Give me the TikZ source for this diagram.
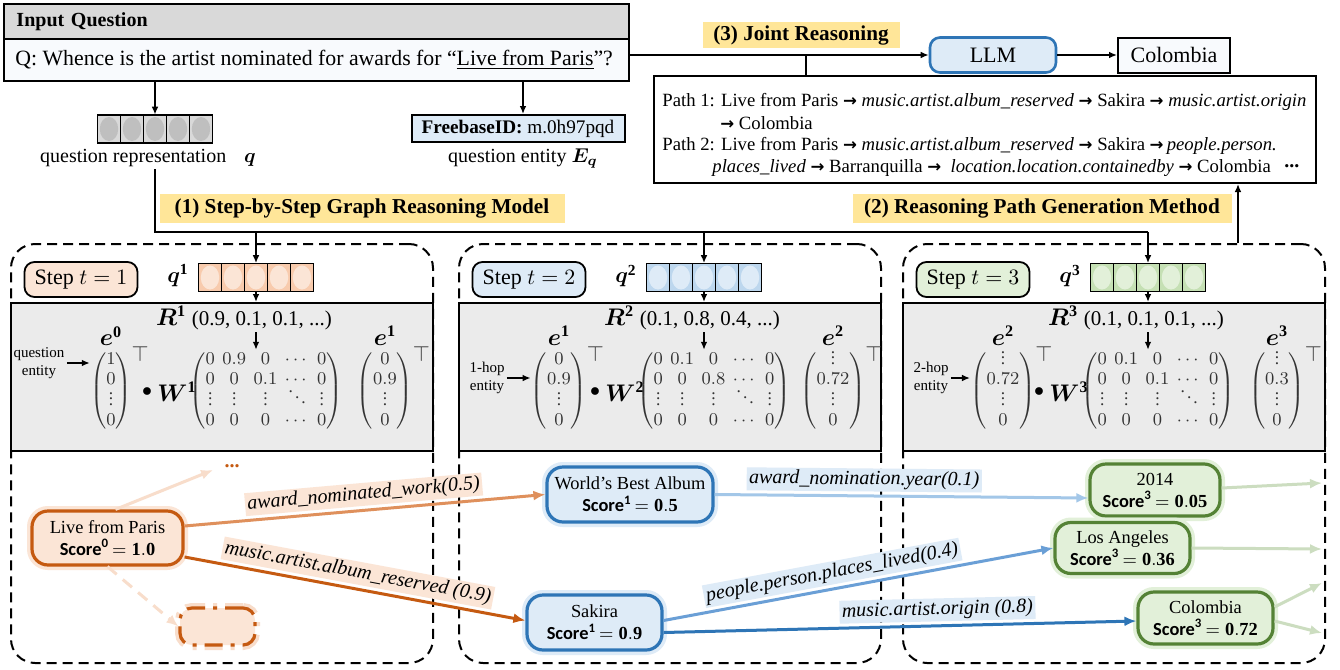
\documentclass[tikz,border=0pt]{standalone}
\usepackage{amsmath}
\usepackage{bm}
\usepackage{fontspec}
\setmainfont{Liberation Serif}
\newfontfamily\carlito{Carlito}
\newfontfamily\djv{DejaVu Sans}
\usetikzlibrary{arrows.meta}

\definecolor{peach}{HTML}{FBE5D6}
\definecolor{peachd}{HTML}{F8CBAD}
\definecolor{orng}{HTML}{C55A11}
\definecolor{orngl}{HTML}{DF905C}
\definecolor{orngf}{HTML}{F8DDCB}
\definecolor{lblue}{HTML}{DEEBF7}
\definecolor{mblue}{HTML}{BDD7EE}
\definecolor{dblue}{HTML}{2E75B6}
\definecolor{blueA}{HTML}{A3C7E8}
\definecolor{blueB}{HTML}{6A9FD6}
\definecolor{lgreen}{HTML}{E2F0D9}
\definecolor{mgreen}{HTML}{C5E0B4}
\definecolor{dgreen}{HTML}{548235}
\definecolor{fgreen}{HTML}{CCDDC0}
\definecolor{ylw}{HTML}{FFE699}
\definecolor{gryh}{HTML}{D9D9D9}
\definecolor{grym}{HTML}{EBEBEB}
\definecolor{gryc}{HTML}{BFBFBF}
\definecolor{qbg}{HTML}{F8FAFD}

\newcommand\fsz[1]{\fontsize{#1}{\dimexpr #1pt*6/5\relax}\selectfont}
\newcommand\score[2]{{\carlito\bfseries Score\textsuperscript{#1}}\,$=\mathbf{#2}$}
\newcommand\pth{{\djv\bfseries\fontsize{8.3}{10}\selectfont →}}
\newcommand\vd{\vbox{\baselineskip2.8pt\lineskiplimit0pt\kern0.5pt\hbox{.}\hbox{.}\hbox{.}}}
\newcommand\dd{\mathinner{\mkern1mu\raise6.2pt\hbox{.}\mkern2mu\raise3.6pt\hbox{.}\mkern2mu\raise1pt\hbox{.}\mkern1mu}}
\newcommand\vcells[4]{%
  \foreach \k in {0,...,4}{%
    \draw[line width=0.9pt, fill=#3] ({#1-57.5+23*\k},{#2-14}) rectangle ({#1-34.5+23*\k},{#2+14});
    \fill[#4] ({#1-46+23*\k},{#2}) ellipse [x radius=4.6pt, y radius=6pt];
  }}

\tikzset{
  x=0.5pt, y=-0.5pt,
  arr/.style={line width=1pt, -{Latex[length=4pt,width=3.4pt]}},
  box/.style={draw, line width=1pt, inner sep=0pt},
  ylab/.style={fill=ylw, font=\fsz{10.6}\bfseries, inner sep=0pt, minimum height=14.5pt},
  panel/.style={draw, line width=1pt, dash pattern=on 5pt off 3pt, rounded corners=12pt, inner sep=0pt},
  graybox/.style={draw, line width=1pt, fill=grym, inner sep=0pt},
  steplab/.style={draw, line width=0.9pt, rounded corners=5pt, minimum width=56.5pt, minimum height=17.5pt, inner sep=0pt, font=\fsz{11}},
  mat/.style={inner sep=0pt, font=\fontsize{8.7}{10.2}\selectfont, text=black!80, execute at begin node={\setlength\arraycolsep{1.9pt}}},
  ent/.style={rounded corners=8pt, line width=1.6pt, align=center, inner sep=2pt, font=\fontsize{9.2}{11}\selectfont},
  glow/.style={preaction={draw=#1, line width=5pt}},
  elab/.style={font=\fsz{10}\itshape, text=black, inner sep=1.2pt, sloped, above=1.5pt},
  link/.style={line width=1.5pt, -{Latex[length=6pt,width=5pt]}},
  pline/.style={inner sep=0pt, anchor=west, font=\fsz{9.35}},
}

\newcommand\steppanel[9]{%
\begin{scope}[xshift=#2]
  \node[panel, anchor=north west, minimum width=211pt, minimum height=209.5pt] (p#1) at (10,243) {};
  \node[graybox, anchor=north west, minimum width=211pt, minimum height=74pt] (g#1) at (10,302) {};
  \node[steplab, fill=#3] (st#1) at (81,279.5) {Step $t=#1$};
  \node[font=\fsz{11}, inner sep=1pt] (ql#1) at (178,276) {$\bm{q}^{\mathbf{#1}}$};
  \node[inner sep=0pt, minimum width=57.5pt, minimum height=14pt] (q#1) at (256,277.5) {};
  \vcells{256}{277.5}{#4}{#3}
  \draw[arr] (q#1.south) -- (q#1.south |- g#1.north);
  \node[font=\fsz{10.5}, inner sep=1pt] (r#1) at (244,318) {{\fsz{11.5}$\bm{R}^{\mathbf{#1}}$}\;(#6)};
  \node[font=\fsz{11.5}, inner sep=1pt] (el#1) at (111,336) {$\bm{e}^{\mathbf{\the\numexpr#1-1\relax}}$};
  \node[font=\fsz{11.5}, inner sep=1pt] (er#1) at (385,336) {$\bm{e}^{\mathbf{#1}}$};
  \node[mat] (lv#1) at (111,391) {$#7$};
  \node[mat, font=\fsz{11}, anchor=south west] (tl#1) at ([xshift=-0.5pt,yshift=-6pt]lv#1.north east) {$\top$};
  \node[font=\fsz{10}, inner sep=0pt] (dt#1) at (147,392) {$\bullet$};
  \node[font=\fsz{11.5}, inner sep=1pt] (w#1) at (177,392) {$\bm{W}^{\mathbf{#1}}$};
  \node[mat] (m#1) at (266,391) {$#8$};
  \node[mat] (rv#1) at (385,391) {$#9$};
  \node[mat, font=\fsz{11}, anchor=south west] (tr#1) at ([xshift=-0.5pt,yshift=-6pt]rv#1.north east) {$\top$};
  \node[font=\fsz{7.5}, align=center, inner sep=1pt] (le#1) at (39,\lely) {#5};
  \draw[arr] (le#1.east) -- (le#1.east -| lv#1.west);
  \draw[arr] (r#1.south -| q#1.south) -- (m#1.north -| q#1.south);
\end{scope}}

\begin{document}
\begin{tikzpicture}
\useasboundingbox (0,0) rectangle (1340,670);
\fill[white] (0,0) rectangle (1340,670);

% ---- input question
\node[box, fill=gryh, anchor=north west, minimum width=312.5pt, minimum height=17.5pt, text width=300pt, inner xsep=6pt, align=left, font=\fsz{10}\bfseries] (ih) at (3,3) {Input Question};
\node[box, fill=qbg, anchor=north west, minimum width=312.5pt, minimum height=21pt] (qb) at (3,38) {};
\node[inner sep=0pt, anchor=west, font=\fsz{10.9}] (qt) at (15,60) {Q: Whence is the artist nominated for awards for ``\underline{Live from Paris}''?};

\node[inner sep=0pt, minimum width=58pt, minimum height=14pt] (qv) at (155,129) {};
\vcells{155}{129}{gryh}{gryc}
\node[font=\fsz{10}, inner sep=1pt] (qrl) at (148,158) {question representation\hspace{9pt}$\bm{q}$};
\node[box, fill=lblue, minimum width=106.5pt, minimum height=13.5pt, font=\fsz{9.6}] (fb) at (518,128.5) {\textbf{FreebaseID:} m.0h97pqd};
\node[font=\fsz{10}, inner sep=1pt] (qel) at (523,158) {question entity $\bm{E}_{\bm{q}}$};
\draw[arr] (qb.south -| qv.north) -- (qv.north);
\draw[arr] (qb.south -| qel.north) -- (qel.north |- fb.north);

% ---- labels
\node[ylab, minimum width=202.5pt] (l1) at (362,208) {(1) Step-by-Step Graph Reasoning Model};
\node[ylab, minimum width=189.5pt] (l2) at (1042,208) {(2) Reasoning Path Generation Method};
\node[ylab, minimum width=98.5pt, minimum height=13pt] (l3) at (801,35) {(3) Joint Reasoning};

% ---- LLM and answer
\node[box, rounded corners=5pt, fill=lblue, draw=dblue, line width=1.3pt, minimum width=63pt, minimum height=17.5pt, font=\fsz{11}] (llm) at (993,55) {LLM};
\node[box, fill=qbg, minimum width=56pt, minimum height=17.5pt, font=\fsz{11}] (ans) at (1174,55) {Colombia};
\draw[arr] (qb.east |- llm.west) -- (llm.west);
\draw[arr] (llm.east) -- (ans.west);

% ---- path box
\node[box, anchor=north west, minimum width=331pt, minimum height=53.5pt] (pb) at (653,75) {};
\coordinate (jr) at (806,55);
\draw[line width=1pt] (jr) -- (jr |- pb.north);
\node[pline] (pl1) at (662,102) {Path 1: Live from Paris \pth\ \textit{music.artist.album\_reserved} \pth\ Sakira \pth\ \textit{music.artist.origin}};
\node[pline] (pl2) at (720,123) {\pth\ Colombia};
\node[pline] (pl3) at (662,146) {Path 2: Live from Paris \pth\ \textit{music.artist.album\_reserved} \pth\ Sakira \pth\,\textit{people.person.}};
\node[pline] (pl4) at (712,168) {\textit{places\_lived} \pth\ Barranquilla \pth\ \ \textit{location.location.containedby} \pth\ Colombia};
\node[pline, font=\fsz{10}\bfseries] (pl5) at (1284,166) {...};

% ---- step panels
\def\lely{363}
\steppanel{1}{0pt}{peach}{peachd}{question\\entity}{0.9, 0.1, 0.1, ...}{\begin{pmatrix}1\\0\\\vd\\0\end{pmatrix}}{\begin{pmatrix}0&0.9&0&\cdots&0\\0&0&0.1&\cdots&0\\\vd&\vd&\vd&\dd&\vd\\0&0&0&\cdots&0\end{pmatrix}}{\begin{pmatrix}0\\0.9\\\vd\\0\end{pmatrix}}
\def\lely{378}
\steppanel{2}{224pt}{lblue}{mblue}{1-hop\\entity}{0.1, 0.8, 0.4, ...}{\begin{pmatrix}0\\0.9\\\vd\\0\end{pmatrix}}{\begin{pmatrix}0&0.1&0&\cdots&0\\0&0&0.8&\cdots&0\\\vd&\vd&\vd&\dd&\vd\\0&0&0&\cdots&0\end{pmatrix}}{\begin{pmatrix}\vd\\0.72\\\vd\\0\end{pmatrix}}
\steppanel{3}{446pt}{lgreen}{mgreen}{2-hop\\entity}{0.1, 0.1, 0.1, ...}{\begin{pmatrix}\vd\\0.72\\\vd\\0\end{pmatrix}}{\begin{pmatrix}0&0.1&0&\cdots&0\\0&0&0.1&\cdots&0\\\vd&\vd&\vd&\dd&\vd\\0&0&0&\cdots&0\end{pmatrix}}{\begin{pmatrix}\vd\\0.3\\\vd\\0\end{pmatrix}}

% ---- distribution of q
\coordinate (hl) at (155,232);
\draw[line width=1pt] (qrl.south -| qv.south) -- (hl) -- (hl -| q3.north);
\foreach \i in {1,2,3} \draw[arr] (hl -| q\i.north) -- (q\i.north);
\coordinate (r2) at (1238,243);
\draw[arr] (r2) -- (r2 |- pb.south);

% ---- entity graph
\node[ent, draw=orng, fill=peach, glow=peach, minimum width=75.5pt, minimum height=27pt] (lfp) at (107.5,538) {Live from Paris\\\score{0}{1.0}};
\node[ent, draw=dblue, fill=lblue, glow=lblue, minimum width=83pt, minimum height=27.5pt] (wba) at (630,494.5) {World's Best Album\\\score{1}{0.5}};
\node[ent, draw=dblue, fill=lblue, glow=lblue, minimum width=67.5pt, minimum height=27.5pt] (sak) at (594.5,622.5) {Sakira\\\score{1}{0.9}};
\node[ent, draw=dgreen, fill=lgreen, glow=lgreen, minimum width=65pt, minimum height=26pt] (y14) at (1155,490) {2014\\\score{3}{0.05}};
\node[ent, draw=dgreen, fill=lgreen, glow=lgreen, minimum width=67.5pt, minimum height=25.5pt] (la) at (1122.5,548) {Los Angeles\\\score{3}{0.36}};
\node[ent, draw=dgreen, fill=lgreen, glow=lgreen, minimum width=67.5pt, minimum height=26pt] (col3) at (1205.5,618) {Colombia\\\score{3}{0.72}};

\node[text=orng, font=\fsz{10}\bfseries, inner sep=0pt] (dd) at (232,466) {...};
\node[rounded corners=6pt, draw=orng, fill=peach, glow=orngf, line width=1.6pt, dash pattern=on 9pt off 4pt on 2pt off 4pt, minimum width=37.5pt, minimum height=18.5pt] (ddb) at (217.5,626.5) {};
\draw[link, orngf] ([xshift=4pt]lfp.north) -- ([xshift=-5.5pt,yshift=-2pt]dd.west);
\draw[link, orngf, dash pattern=on 6pt off 4pt] (lfp.south) -- (ddb.west);

\draw[link, orngl] ([yshift=6pt]lfp.east) -- node[elab, fill=peach, pos=0.5] {award\_nominated\_work(0.5)} (wba.west);
\draw[link, orng] ([yshift=-9.5pt]lfp.east) -- node[elab, fill=peach, pos=0.5] {music.artist.album\_reserved (0.9)} ([yshift=1pt]sak.west);
\draw[link, blueA] (wba.east) -- node[elab, fill=lblue, pos=0.4] {award\_nomination.year(0.1)} ([yshift=-4pt]y14.west);
\draw[link, blueB] ([yshift=1pt]sak.east) -- node[elab, fill=lblue, pos=0.44] {people.person.places\_lived(0.4)} (la.west);
\draw[link, dblue] ([yshift=-5pt]sak.east) -- node[elab, fill=lblue, pos=0.58] {music.artist.origin (0.8)} ([yshift=-1.5pt]col3.west);

\coordinate (g1) at (1322,483);
\coordinate (g2) at (1322,549);
\coordinate (g3) at (1322,583);
\coordinate (g4) at (1322,633);
\draw[link, fgreen] ([yshift=1pt]y14.east) -- (g1);
\draw[link, fgreen] (la.east) -- (g2);
\draw[link, fgreen] ([yshift=5.5pt]col3.east) -- (g3);
\draw[link, fgreen] ([yshift=-1.5pt]col3.east) -- (g4);
\end{tikzpicture}
\end{document}
